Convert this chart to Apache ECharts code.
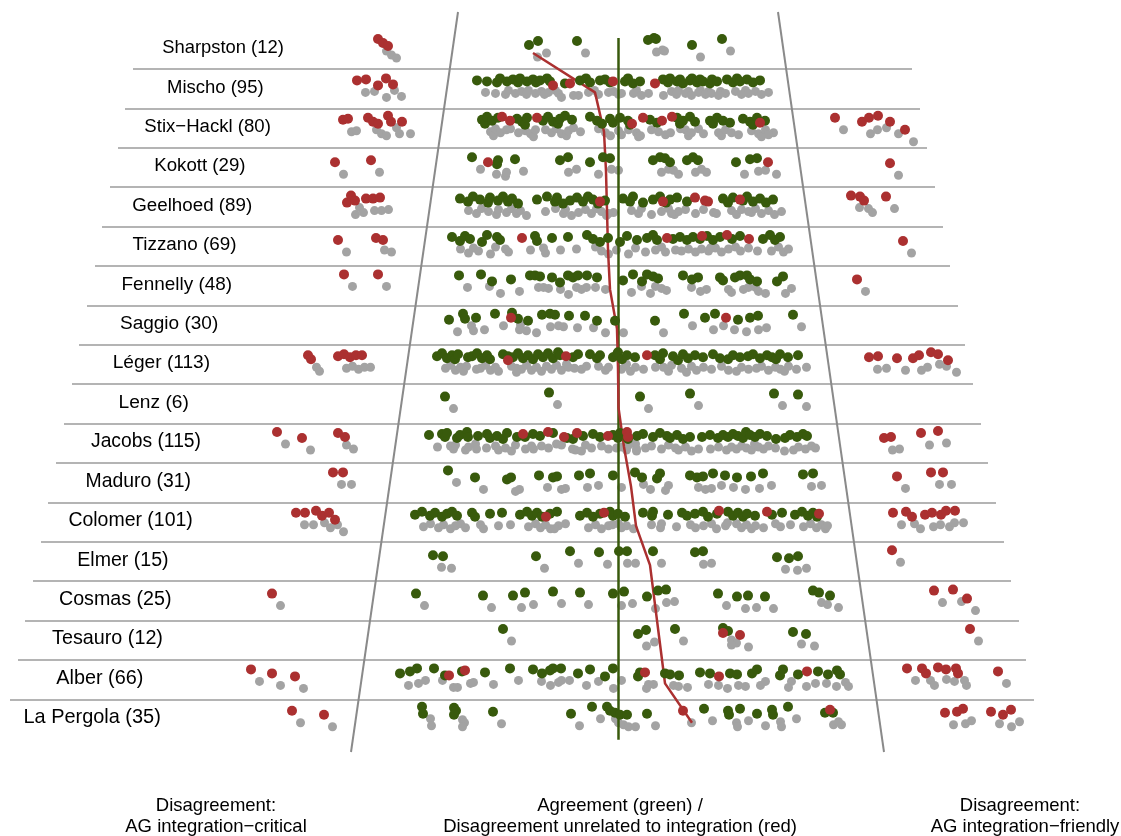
<!DOCTYPE html>
<html>
<head>
<meta charset="utf-8">
<script src="https://cdn.jsdelivr.net/npm/echarts@6/dist/echarts.min.js"></script>
<style>
  html, body { margin: 0; padding: 0; background: #ffffff; }
  #chart { width: 1121px; height: 836px; }
</style>
</head>
<body>
<div id="chart"></div>
<script>
// Advocates General, one row each (number of opinions in brackets)
const advocates = [
  'Sharpston (12)', 'Mischo (95)', 'Stix\u2212Hackl (80)', 'Kokott (29)', 'Geelhoed (89)',
  'Tizzano (69)', 'Fennelly (48)', 'Saggio (30)', 'L\u00e9ger (113)', 'Lenz (6)',
  'Jacobs (115)', 'Maduro (31)', 'Colomer (101)', 'Elmer (15)', 'Cosmas (25)',
  'Tesauro (12)', 'Alber (66)', 'La Pergola (35)'
];

// Opinions where the Court agreed with the AG: [position, jitter]
const agreeRows = [
  [[-89,-3],[-80,-7],[-41,-7],[30,-8],[36,-10],[38,-9],[74,-3],[104,-9]],
  [[-141,-7],[-131,-6],[-121,-5],[-118,-9],[-111,-6],[-105,-8],[-100,-5],[-98,-9],[-91,-6],[-85,-8],[-82,-5],[-78,-7],[-71,-9],[-68,-6],[-53,-4],[-38,-7],[-32,-9],[-28,-5],[-18,-7],[-13,-8],[-8,-5],[7,-6],[10,-9],[15,-4],[22,-6],[45,-8],[50,-5],[52,-9],[59,-6],[62,-8],[65,-4],[72,-7],[74,-9],[79,-5],[82,-8],[85,-6],[92,-4],[94,-8],[99,-6],[109,-8],[115,-5],[119,-9],[122,-6],[129,-8],[135,-5],[142,-7]],
  [[-136,-7],[-133,-3],[-131,-10],[-126,-6],[-120,-9],[-101,-8],[-96,-5],[-93,-2],[-91,-9],[-75,-6],[-70,-10],[-65,-5],[-60,-3],[-58,-8],[-53,-11],[-46,-7],[-28,-10],[-21,-6],[-16,-3],[-8,-8],[-5,-4],[2,-9],[10,-6],[12,-2],[32,-7],[39,-4],[59,-9],[62,-3],[65,-6],[72,-10],[77,-5],[92,-6],[95,-3],[99,-9],[105,-6],[112,-4],[125,-8],[132,-5],[135,-2],[139,-9],[147,-6]],
  [[-146,-9],[-121,-2],[-120,-6],[-103,-7],[-58,-6],[-50,-9],[-28,-4],[-15,-9],[-8,-8],[35,-6],[42,-9],[47,-8],[52,-4],[69,-6],[75,-9],[80,-6],[118,-4],[132,-7],[139,-8]],
  [[-158,-7],[-150,-4],[-145,-9],[-138,-6],[-130,-3],[-128,-8],[-120,-5],[-115,-9],[-110,-4],[-106,-7],[-100,-2],[-81,-6],[-71,-9],[-63,-4],[-61,-8],[-55,-2],[-48,-5],[-41,-8],[-35,-4],[-30,-9],[-25,-6],[-20,-2],[-13,-5],[5,-7],[12,-4],[15,-9],[25,-3],[35,-6],[42,-9],[48,-3],[52,-6],[59,-8],[69,-4],[105,-7],[110,-3],[115,-8],[125,-5],[129,-9],[135,-4],[142,-7],[148,-3],[155,-6]],
  [[-166,-8],[-158,-4],[-153,-9],[-148,-6],[-136,-3],[-131,-10],[-121,-8],[-118,-5],[-83,-9],[-81,-4],[-66,-7],[-50,-8],[-31,-10],[-25,-6],[-18,-3],[-10,-7],[2,-3],[9,-9],[19,-5],[29,-7],[35,-10],[39,-5],[55,-6],[62,-8],[69,-5],[75,-8],[82,-6],[89,-9],[95,-5],[102,-8],[114,-6],[122,-9],[145,-6],[152,-10],[157,-5],[162,-8]],
  [[-159,-9],[-137,-10],[-126,-3],[-107,-5],[-88,-9],[-83,-9],[-78,-8],[-66,-7],[-58,-2],[-50,-9],[-45,-7],[-40,-9],[-31,-9],[-21,-7],[5,-4],[15,-10],[24,-3],[29,-10],[35,-8],[40,-6],[65,-9],[74,-5],[80,-7],[102,-7],[105,-4],[117,-7],[122,-9],[129,-9],[132,-5],[139,-3],[159,-3],[165,-8]],
  [[-169,-4],[-155,-10],[-153,-5],[-142,-6],[-123,-10],[-106,-11],[-100,-5],[-90,-3],[-76,-9],[-68,-10],[-63,-9],[-49,-8],[-33,-8],[-21,-3],[-3,-3],[37,-3],[66,-10],[87,-6],[97,-10],[120,-4],[132,-6],[140,-8],[175,-9]],
  [[-181,-7],[-176,-10],[-171,-5],[-166,-8],[-163,-4],[-160,-9],[-150,-6],[-146,-7],[-141,-10],[-136,-5],[-131,-8],[-128,-4],[-115,-9],[-110,-7],[-105,-6],[-100,-10],[-95,-5],[-90,-8],[-85,-4],[-80,-9],[-75,-6],[-70,-10],[-65,-5],[-60,-11],[-58,-8],[-45,-6],[-40,-9],[-28,-9],[-21,-5],[-18,-8],[-5,-6],[-1,-9],[0,-11],[4,-4],[9,-8],[17,-6],[37,-8],[42,-4],[45,-10],[55,-7],[60,-3],[65,-9],[70,-5],[77,-8],[85,-6],[95,-9],[102,-5],[110,-4],[115,-8],[122,-6],[130,-7],[135,-9],[142,-5],[149,-8],[154,-6],[158,-4],[162,-9],[170,-6],[180,-8]],
  [[-173,-6],[-69,-10],[22,-6],[72,-9],[156,-9],[180,-8]],
  [[-189,-7],[-176,-8],[-173,-5],[-171,-9],[-161,-4],[-158,-7],[-151,-10],[-150,-5],[-140,-6],[-131,-8],[-128,-4],[-121,-6],[-115,-3],[-111,-9],[-101,-5],[-93,-5],[-85,-8],[-78,-6],[-65,-9],[-51,-4],[-45,-3],[-35,-6],[-25,-8],[-18,-5],[-5,-7],[0,-4],[2,-9],[10,-3],[19,-6],[25,-8],[35,-5],[42,-9],[49,-6],[52,-4],[59,-7],[65,-3],[72,-5],[84,-5],[92,-7],[100,-4],[105,-7],[110,-5],[115,-8],[120,-6],[125,-4],[128,-10],[132,-7],[137,-5],[142,-8],[149,-6],[158,-3],[167,-4],[172,-7],[179,-5],[185,-8],[189,-6]],
  [[-170,-11],[-143,-4],[-111,-2],[-107,-4],[-79,-6],[-65,-4],[-61,-5],[-39,-6],[-28,-8],[-5,-6],[17,-9],[24,-4],[39,-3],[42,-8],[72,-6],[79,-4],[85,-5],[95,-8],[107,-6],[119,-4],[133,-5],[145,-8],[185,-7],[195,-8]],
  [[-203,-6],[-196,-9],[-188,-5],[-183,-8],[-176,-4],[-171,-7],[-166,-9],[-161,-5],[-146,-8],[-143,-4],[-128,-7],[-116,-8],[-98,-6],[-91,-9],[-86,-5],[-81,-8],[-76,-4],[-68,-7],[-61,-9],[-38,-5],[-31,-8],[-25,-4],[-18,-7],[-8,-9],[-5,-5],[0,-7],[7,-4],[25,-8],[34,-5],[35,-9],[50,-6],[64,-8],[69,-5],[77,-7],[85,-9],[90,-4],[99,-7],[110,-9],[115,-5],[120,-8],[125,-4],[129,-7],[137,-5],[154,-6],[164,-8],[177,-6],[184,-9],[190,-5],[195,-8],[199,-4]],
  [[-185,-5],[-175,-4],[-82,-4],[-48,-9],[-19,-8],[1,-9],[9,-9],[35,-9],[77,-8],[85,-9],[159,-3],[171,-2],[180,-4]],
  [[-202,-6],[-135,-4],[-105,-4],[-93,-7],[-65,-8],[-38,-7],[-5,-6],[6,-8],[29,-3],[40,-9],[48,-10],[100,-6],[119,-3],[130,-4],[147,-3],[195,-9],[201,-7],[212,-4]],
  [[-115,-10],[20,-5],[28,-9],[57,-10],[105,-11],[110,-8],[175,-7],[188,-5]],
  [[-218,-5],[-208,-7],[-201,-10],[-184,-10],[-173,-3],[-156,-7],[-133,-6],[-108,-10],[-85,-9],[-76,-5],[-68,-8],[-65,-10],[-57,-10],[-40,-5],[-28,-9],[-13,-2],[-5,-10],[20,-2],[22,-6],[47,-5],[52,-4],[61,-3],[82,-6],[92,-5],[112,-5],[119,-4],[134,-5],[139,-9],[162,-3],[165,-9],[180,-4],[200,-7],[210,-4],[219,-8],[222,-4]],
  [[-196,-11],[-195,-4],[-164,-10],[-162,-7],[-164,-3],[-125,-6],[-47,-4],[-26,-11],[-11,-11],[-8,-7],[-3,-5],[2,-3],[9,-3],[29,-4],[86,-9],[110,-7],[111,-3],[122,-9],[139,-4],[154,-8],[155,-3],[170,-11],[207,-5],[215,-5]]
];

// Opinions where the Court disagreed with the AG: [position, jitter]
const disagreeRows = [
  [[-240,-9],[-235,-5],[-230,-2]],
  [[-261,-7],[-252,-8],[-240,-2],[-232,-9],[-225,-3],[-65,-2],[-48,-4],[-5,-6],[37,-4]],
  [[-275,-7],[-270,-8],[-250,-9],[-245,-5],[-240,-3],[-230,-11],[-227,-5],[-216,-5],[-116,-10],[-108,-6],[-81,-9],[14,-3],[25,-9],[44,-6],[54,-10],[142,-4],[217,-9],[244,-5],[251,-9],[260,-11],[272,-5],[287,3]],
  [[-283,-4],[-247,-6],[-130,-4],[150,-4],[272,-3]],
  [[-271,-3],[-267,-10],[-263,-5],[-252,-7],[-245,-7],[-238,-8],[-18,-4],[45,-4],[77,-8],[87,-5],[90,-4],[122,-6],[233,-10],[242,-9],[246,-5],[268,-9]],
  [[-280,-5],[-242,-7],[-235,-5],[-96,-7],[49,-7],[84,-9],[109,-10],[131,-6],[285,-4]],
  [[-274,-10],[-240,-10],[239,-5]],
  [[-107,-6],[108,-6]],
  [[-310,-8],[-307,-4],[-280,-7],[-274,-9],[-268,-6],[-262,-8],[-256,-8],[-110,-3],[-52,-7],[29,-8],[251,-6],[260,-7],[279,-5],[295,-5],[301,-8],[313,-11],[320,-9],[330,-3]],
  [],
  [[-341,-10],[-316,-4],[-280,-9],[-273,-5],[-95,-8],[-70,-10],[-54,-5],[-41,-9],[-10,-6],[9,-10],[10,-5],[266,-4],[273,-5],[303,-9],[320,-11]],
  [[-285,-9],[-275,-9],[279,-5],[313,-9],[325,-9]],
  [[-322,-8],[-313,-8],[-302,-10],[-296,-5],[-289,-8],[-283,-1],[-72,-4],[-14,-8],[101,-10],[149,-9],[201,-7],[275,-8],[288,-9],[294,-4],[307,-6],[314,-8],[323,-6],[328,-10],[337,-10]],
  [[274,-10]],
  [[-346,-6],[316,-9],[335,-10],[349,-1]],
  [[105,-6],[122,-4],[352,-10]],
  [[-367,-9],[-346,-5],[-323,-2],[-169,-3],[-153,-8],[27,-6],[101,-2],[189,-7],[289,-10],[304,-10],[308,-5],[320,-11],[328,-9],[338,-10],[340,-5],[380,-7]],
  [[-326,-7],[-294,-3],[65,-7],[212,-8],[327,-5],[339,-6],[345,-9],[373,-6],[385,-3],[393,-8]]
];

// Mean position of each AG
const meanPositions = [-85, -23, -14, -12, -11, -10, -8, -1, 0, 0.5, 6, 13, 18, 32, 37, 42, 47, 74];

// Extent of the rule drawn under each row (left end, right end)
const ruleLeft  = [-485, -493, -500, -508, -516, -523, -531, -539, -546, -554, -562, -570, -577, -585, -593, -600, -608];
const ruleRight = [294, 302, 309, 317, 325, 332, 340, 347, 355, 363, 370, 378, 386, 393, 401, 408, 416];

// Borders of the agreement zone (top and bottom ends, in row units)
const zoneTop = { left: -160, right: 160, row: -0.914 };
const zoneBottom = { left: -267, right: 266, row: 17.868 };
const neutralLine = { pos: 0, from: -0.254, to: 17.56 };

const ROW_PX = 39.4;           // height of one row band in pixels
const toRow = (i, jit) => i + jit / ROW_PX;

const GREEN = '#385a0c';
const RED = '#ab3030';
const SHADOW = '#a3a3a3';
const FONT = 'Liberation Sans, Arial, Helvetica, sans-serif';

const greenData = [], redData = [], shadowData = [];
agreeRows.forEach((row, i) => row.forEach(([x, j]) => {
  greenData.push([x, toRow(i, j)]);
  shadowData.push([x, toRow(i, j)]);
}));
disagreeRows.forEach((row, i) => row.forEach(([x, j]) => {
  redData.push([x, toRow(i, j)]);
  shadowData.push([x, toRow(i, j)]);
}));

const ruleData = ruleLeft.map((l, k) => ({ coords: [[l, k + 0.533], [ruleRight[k], k + 0.533]] }));
const zoneData = [
  { coords: [[zoneTop.left, zoneTop.row], [zoneBottom.left, zoneBottom.row]] },
  { coords: [[zoneTop.right, zoneTop.row], [zoneBottom.right, zoneBottom.row]] }
];
const labelData = advocates.map((name, i) => ({
  name: name,
  value: [-395 - 7.7 * i, i],
  label: { fontSize: 18.4 + 0.09 * i }
}));

const chart = echarts.init(document.getElementById('chart'), null, { renderer: 'canvas' });

const foot = (x, y, text) => ({
  type: 'text', x: x, y: y,
  style: {
    text: text, textAlign: 'center', textVerticalAlign: 'middle',
    fontFamily: FONT, fontSize: 18.5, fill: '#000'
  }
});

chart.setOption({
  animation: false,
  backgroundColor: '#ffffff',
  grid: { left: 0, right: 0, top: 0, bottom: 0 },
  xAxis: { type: 'value', min: -618, max: 503, show: false },
  yAxis: { type: 'value', min: -48 / ROW_PX, max: 20, inverse: true, show: false },
  series: [
    {
      type: 'lines', coordinateSystem: 'cartesian2d', z: 1, silent: true,
      lineStyle: { color: '#9b9b9b', width: 1.5, opacity: 1 },
      data: ruleData
    },
    {
      type: 'lines', coordinateSystem: 'cartesian2d', z: 1, silent: true,
      lineStyle: { color: '#8a8a8a', width: 2, opacity: 1 },
      data: zoneData
    },
    {
      type: 'scatter', z: 2, silent: true,
      symbolSize: 9, symbolOffset: [8.5, 12],
      itemStyle: { color: SHADOW, opacity: 1 },
      data: shadowData
    },
    {
      type: 'lines', coordinateSystem: 'cartesian2d', z: 3, silent: true,
      lineStyle: { color: GREEN, width: 2.5, opacity: 1 },
      data: [{ coords: [[neutralLine.pos, neutralLine.from], [neutralLine.pos, neutralLine.to]] }]
    },
    {
      type: 'line', z: 3, silent: true, showSymbol: false,
      lineStyle: { color: RED, width: 2.5 },
      data: meanPositions.map((x, i) => [x, i + 5 / ROW_PX])
    },
    {
      type: 'scatter', z: 4, silent: true,
      symbolSize: 10, itemStyle: { color: GREEN, opacity: 1 },
      data: greenData
    },
    {
      type: 'scatter', z: 5, silent: true,
      symbolSize: 10, itemStyle: { color: RED, opacity: 1 },
      data: redData
    },
    {
      type: 'scatter', z: 6, silent: true,
      symbolSize: 0,
      label: {
        show: true, position: 'inside', formatter: '{b}',
        color: '#000', opacity: 1, fontFamily: FONT,
        align: 'center', verticalAlign: 'middle'
      },
      data: labelData
    }
  ],
  graphic: [
    foot(216, 806, 'Disagreement:'),
    foot(216, 827, 'AG integration\u2212critical'),
    foot(620, 806, 'Agreement (green) /'),
    foot(620, 827, 'Disagreement unrelated to integration (red)'),
    foot(1020, 806, 'Disagreement:'),
    foot(1025, 827, 'AG integration\u2212friendly')
  ]
});
</script>
</body>
</html>
